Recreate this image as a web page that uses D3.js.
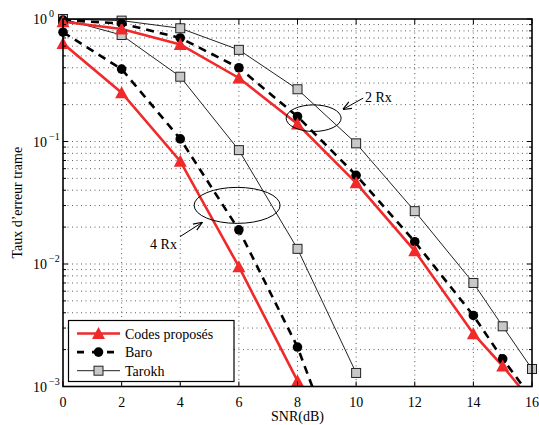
<!DOCTYPE html>
<html>
<head>
<meta charset="utf-8">
<script src="https://cdn.jsdelivr.net/npm/d3@7"></script>
<style>
  body { margin: 0; background: #fff; }
</style>
</head>
<body>
<svg id="chart" width="539" height="425"></svg>
<script>
// SNR points (dB)
const snr4 = [0, 2, 4, 6, 8, 10];
const snr2 = [0, 2, 4, 6, 8, 10, 12, 14, 15, 16];

// 4 Rx curves (frame error rate)
const proposes4 = [0.63, 0.25, 0.069, 0.0095, 0.00111];
const baro4 = [0.78, 0.39, 0.105, 0.019, 0.0021, 0.00011];
const tarokh4 = [1.0, 0.74, 0.338, 0.085, 0.0133, 0.00129];

// 2 Rx curves
const proposes2 = [0.95, 0.83, 0.62, 0.33, 0.139, 0.046, 0.0128, 0.0027, 0.00147, 0.00075];
const baro2 = [0.98, 0.92, 0.70, 0.40, 0.16, 0.053, 0.0152, 0.0038, 0.00168, 0.0008];
const tarokh2 = [1.0, 0.97, 0.84, 0.56, 0.267, 0.0966, 0.027, 0.0070, 0.0031, 0.00139];

const xTicks = [0, 2, 4, 6, 8, 10, 12, 14, 16];
const yTicks = [1e-3, 1e-2, 1e-1, 1];
const yExp = ["\u22123", "\u22122", "\u22121", "0"];

const legendLabels = ["Codes proposés", "Baro", "Tarokh"];

const margin = {top: 19, right: 7, bottom: 38.5, left: 63};
const W = 539, H = 425;

const svg = d3.select("#chart")
  .attr("font-family", "'Liberation Serif', 'Times New Roman', 'DejaVu Serif', serif");

const x = d3.scaleLinear().domain([0, 16]).range([margin.left, W - margin.right]);
const y = d3.scaleLog().domain([1e-3, 1]).range([H - margin.bottom, margin.top]);

const red = "#f02a2a";

svg.append("defs").append("clipPath").attr("id", "plotclip")
  .append("rect")
  .attr("x", x(0)).attr("y", y(1))
  .attr("width", x(16) - x(0)).attr("height", y(1e-3) - y(1));

// grid
let minorY = [];
for (let e = -3; e < 0; e++) {
  for (let k = 1; k <= 9; k++) minorY.push(k * Math.pow(10, e));
}
minorY.push(1);

const grid = svg.append("g").attr("stroke", "#333").attr("stroke-width", 0.8)
  .attr("stroke-dasharray", "1,3.5");
grid.selectAll(".gx").data(xTicks.slice(1, -1)).enter().append("line")
  .attr("x1", d => x(d)).attr("x2", d => x(d))
  .attr("y1", y(1)).attr("y2", y(1e-3));
grid.selectAll(".gy").data(minorY.filter(v => v > 1e-3 && v < 1)).enter().append("line")
  .attr("x1", x(0)).attr("x2", x(16))
  .attr("y1", d => y(d)).attr("y2", d => y(d));

// curves
const plot = svg.append("g");
const lines = plot.append("g").attr("clip-path", "url(#plotclip)");

function series(xs, ys) {
  return ys.map((v, i) => ({x: xs[i], y: v}));
}

const line = d3.line().x(d => x(d.x)).y(d => y(d.y));

const curves = [
  {data: series(snr2, tarokh2), type: "tarokh"},
  {data: series(snr4, tarokh4), type: "tarokh"},
  {data: series(snr2, baro2), type: "baro"},
  {data: series(snr4, baro4), type: "baro"},
  {data: series(snr2, proposes2), type: "prop"},
  {data: series(snr4, proposes4), type: "prop"}
];

const styles = {
  tarokh: {stroke: "#222", width: 1, dash: null},
  baro: {stroke: "#000", width: 2.6, dash: "8,6"},
  prop: {stroke: red, width: 2.6, dash: null}
};

function drawMarker(g, type, cx, cy) {
  if (type === "tarokh") {
    g.append("rect").attr("x", cx - 4.5).attr("y", cy - 4.5)
      .attr("width", 9).attr("height", 9)
      .attr("fill", "#c8c8c8").attr("stroke", "#222").attr("stroke-width", 1);
  } else if (type === "baro") {
    g.append("circle").attr("cx", cx).attr("cy", cy).attr("r", 4.8).attr("fill", "#000");
  } else {
    g.append("path")
      .attr("d", `M${cx},${cy - 6.5}L${cx + 6.5},${cy + 5.5}L${cx - 6.5},${cy + 5.5}Z`)
      .attr("fill", red);
  }
}

curves.forEach(c => {
  const s = styles[c.type];
  lines.append("path").datum(c.data)
    .attr("d", line)
    .attr("fill", "none")
    .attr("stroke", s.stroke)
    .attr("stroke-width", s.width)
    .attr("stroke-dasharray", s.dash);
  const mg = plot.append("g");
  c.data.filter(d => d.y >= 1e-3 && d.x <= 16).forEach(d => drawMarker(mg, c.type, x(d.x), y(d.y)));
});

// annotations
const ann = svg.append("g").attr("stroke", "#000").attr("fill", "none").attr("stroke-width", 1);
ann.append("ellipse").attr("cx", x(8.55)).attr("cy", y(0.155)).attr("rx", 27.5).attr("ry", 13.3);
ann.append("ellipse").attr("cx", x(5.94)).attr("cy", y(0.0301)).attr("rx", 43).attr("ry", 18);

svg.append("defs").append("marker").attr("id", "arrow")
  .attr("viewBox", "0 0 10 10").attr("refX", 9).attr("refY", 5)
  .attr("markerWidth", 9).attr("markerHeight", 9).attr("orient", "auto")
  .append("path").attr("d", "M0,1L10,5L0,9").attr("fill", "none").attr("stroke", "#000").attr("stroke-width", 1.3);

ann.append("line")
  .attr("x1", x(10.24)).attr("y1", y(0.226)).attr("x2", x(9.57)).attr("y2", y(0.184))
  .attr("marker-end", "url(#arrow)");
ann.append("line")
  .attr("x1", x(3.99)).attr("y1", y(0.0167)).attr("x2", x(4.73)).attr("y2", y(0.0217))
  .attr("marker-end", "url(#arrow)");

svg.append("text").attr("x", x(10.3)).attr("y", y(0.21)).attr("font-size", 14).text("2 Rx");
svg.append("text").attr("x", x(2.97)).attr("y", y(0.0133)).attr("font-size", 14).text("4 Rx");

// axes frame and ticks
const axes = svg.append("g").attr("stroke", "#000");
axes.append("rect").attr("x", x(0)).attr("y", y(1))
  .attr("width", x(16) - x(0)).attr("height", y(1e-3) - y(1))
  .attr("fill", "none").attr("stroke-width", 1.6);

xTicks.forEach(t => {
  axes.append("line").attr("x1", x(t)).attr("x2", x(t)).attr("y1", y(1e-3)).attr("y2", y(1e-3) - 5).attr("stroke-width", 1);
  axes.append("line").attr("x1", x(t)).attr("x2", x(t)).attr("y1", y(1)).attr("y2", y(1) + 5).attr("stroke-width", 1);
});
minorY.forEach(v => {
  const major = yTicks.some(t => Math.abs(t - v) < 1e-9);
  const len = major ? 5 : 3;
  axes.append("line").attr("x1", x(0)).attr("x2", x(0) + len).attr("y1", y(v)).attr("y2", y(v)).attr("stroke-width", 1);
  axes.append("line").attr("x1", x(16)).attr("x2", x(16) - len).attr("y1", y(v)).attr("y2", y(v)).attr("stroke-width", 1);
});

// tick labels
svg.append("g").selectAll("text").data(xTicks).enter().append("text")
  .attr("x", d => x(d)).attr("y", y(1e-3) + 20)
  .attr("text-anchor", "middle").attr("font-size", 14)
  .text(d => d);

const yl = svg.append("g").selectAll("text").data(yTicks).enter().append("text")
  .attr("x", 33).attr("y", d => y(d) + 5)
  .attr("font-size", 14);
yl.append("tspan").text("10");
yl.append("tspan").attr("dy", -7).attr("dx", 2).attr("font-size", 10).text((d, i) => yExp[i]);

// axis titles
svg.append("text").attr("x", (x(0) + x(16)) / 2).attr("y", 421)
  .attr("text-anchor", "middle").attr("font-size", 14).text("SNR(dB)");
svg.append("text").attr("transform", `translate(22,${(y(1) + y(1e-3)) / 2}) rotate(-90)`)
  .attr("text-anchor", "middle").attr("font-size", 14).text("Taux d\u2019erreur trame");

// legend
const lg = svg.append("g");
lg.append("rect").attr("x", 68.5).attr("y", 320.5).attr("width", 165.5).attr("height", 61)
  .attr("fill", "#fff").attr("stroke", "#000").attr("stroke-width", 1.2);
["prop", "baro", "tarokh"].forEach((type, i) => {
  const ly = 333.5 + i * 18.6;
  const s = styles[type];
  lg.append("line").attr("x1", 77).attr("x2", 120).attr("y1", ly).attr("y2", ly)
    .attr("stroke", s.stroke).attr("stroke-width", s.width)
    .attr("stroke-dasharray", type === "baro" ? "7,8" : null);
  drawMarker(lg, type, 98.5, ly);
  lg.append("text").attr("x", 125).attr("y", ly + 5).attr("font-size", 14).text(legendLabels[i]);
});
</script>
</body>
</html>
